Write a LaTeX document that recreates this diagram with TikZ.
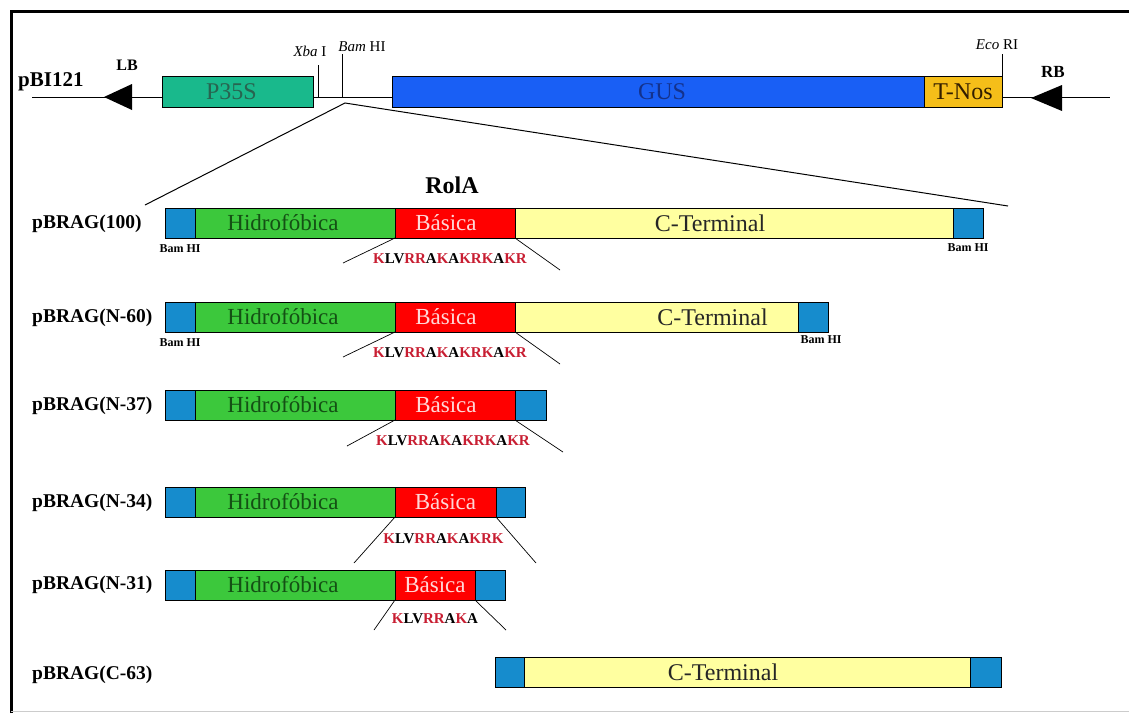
\documentclass[tikz,border=0pt]{standalone}
\usepackage{fontspec}
\setmainfont{Liberation Serif}
\usetikzlibrary{positioning, calc}

\definecolor{bamblue}{RGB}{22,140,205}
\definecolor{hidrogreen}{RGB}{60,200,60}
\definecolor{hidrotext}{RGB}{20,80,20}
\definecolor{basred}{RGB}{255,0,0}
\definecolor{bastext}{RGB}{255,215,215}
\definecolor{ctyellow}{RGB}{255,255,160}
\definecolor{promgreen}{RGB}{25,185,140}
\definecolor{promtext}{RGB}{40,100,80}
\definecolor{gusblue}{RGB}{25,95,245}
\definecolor{gustext}{RGB}{20,50,140}
\definecolor{nosgold}{RGB}{245,190,25}
\definecolor{nostext}{RGB}{50,30,0}
\definecolor{pepred}{RGB}{200,30,50}

\newcommand{\kr}[1]{\textcolor{pepred}{#1}}
\newcommand{\fsz}[1]{\fontsize{#1}{#1}\selectfont}

\begin{document}
\begin{tikzpicture}[
    x=1pt, y=-1pt,
    seg/.style={
        draw=black,
        line width=0.8pt,
        minimum height=30pt,
        inner sep=0pt,
        outer sep=0pt,
        anchor=west
    },
    nudge/.style={execute at begin node={\hspace*{#1}}},
    bamseg/.style={seg, fill=bamblue, minimum width=30pt},
    hidroseg/.style={seg, fill=hidrogreen, text=hidrotext, font=\fsz{23},
        minimum width=200pt, nudge=-24pt},
    basseg/.style={seg, fill=basred, text=bastext, font=\fsz{23}},
    ctseg/.style={seg, fill=ctyellow, text=black!85, font=\fsz{24}},
    construct/.style={font=\bfseries\fsz{19.5}, anchor=west, inner sep=0pt},
    pep/.style={font=\bfseries\fsz{15}, inner sep=0pt},
    peplink/.style={line width=0.7pt},
    bamlbl/.style={font=\bfseries\fsz{12}, inner sep=0pt},
    site/.style={font=\fsz{15}, inner sep=0pt, anchor=south}
]
    \useasboundingbox (0,0) rectangle (1129,713);

    % frame
    \draw[line width=3pt] (11,713) -- (11,11) -- (1129,11);
    \draw[gray!40] (11,711) -- (1129,711);

    % --- pBI121 T-DNA ---
    \coordinate (lend) at (32,97);
    \coordinate (rend) at (1110,97);
    \draw[line width=1pt] (lend) -- (rend);

    \node[font=\bfseries\fsz{21}, anchor=west, inner sep=0pt] (pbi) at (18,82) {pBI121};
    \node[font=\bfseries\fsz{16}, inner sep=0pt] (lb) at (127,65) {LB};
    \node[font=\bfseries\fsz{17}, inner sep=0pt] (rb) at (1053,72) {RB};
    \fill (104,97) -- (132,84) -- (132,110) -- cycle;
    \fill (1031,98) -- (1062,85) -- (1062,111) -- cycle;

    \node[seg, fill=promgreen, text=promtext, font=\fsz{24}, minimum height=31pt, minimum width=151pt, nudge=-12pt] (p35s) at (162,92) {P35S};
    \node[seg, fill=gusblue, text=gustext, font=\fsz{24}, minimum height=31pt, minimum width=532pt, nudge=8pt] (gus) at (392,92) {GUS};
    \node[seg, fill=nosgold, text=nostext, font=\fsz{24}, minimum height=31pt, minimum width=78pt, right=0pt of gus] (tnos) {T-Nos};

    % restriction sites
    \coordinate (xba) at (318,97);
    \coordinate (bam) at (342,97);
    \coordinate (eco) at (tnos.north east);
    \draw[line width=0.8pt] (xba) -- ++(0,-32);
    \draw[line width=0.8pt] (bam) -- ++(0,-43);
    \draw[line width=0.8pt] (eco) -- ++(0,-23);
    \node[site] (xbalbl) at (310,57) {\textit{Xba} I};
    \node[site] (bamlbl) at (362,52) {\textit{Bam} HI};
    \node[site] (ecolbl) at (997,50) {\textit{Eco} RI};

    % zoom onto RolA
    \coordinate (cut) at (345,103);
    \coordinate (zl) at (145,205);
    \coordinate (zr) at (1008,206);
    \draw[line width=1pt] (zl) -- (cut) -- (zr);
    \node[font=\bfseries\fsz{24}, inner sep=0pt] (rola) at (452,185) {RolA};

    % --- pBRAG(100) ---
    \node[construct] (c100) at (32,224) {pBRAG(100)};
    \node[bamseg] (b1a) at (165,223) {};
    \node[hidroseg, right=0pt of b1a] (b1h) {Hidrofóbica};
    \node[basseg, minimum width=120pt, nudge=-18pt, right=0pt of b1h] (b1b) {Básica};
    \node[ctseg, minimum width=438pt, nudge=-48pt, right=0pt of b1b] (b1c) {C-Terminal};
    \node[bamseg, right=0pt of b1c] (b1d) {};
    \node[bamlbl, below=6pt of b1a] {Bam HI};
    \node[bamlbl, below=5pt of b1d] {Bam HI};
    \node[pep] (pep1) at ($(b1b.south)+(-5,21)$) {\kr{K}LV\kr{RR}A\kr{K}A\kr{KRK}A\kr{KR}};
    \draw[peplink] (b1b.south west) -- ++(-52,25);
    \draw[peplink] (b1b.south east) -- ++(45,32);

    % --- pBRAG(N-60) ---
    \node[construct] (n60) at (32,318) {pBRAG(N-60)};
    \node[bamseg] (b2a) at (165,317) {};
    \node[hidroseg, right=0pt of b2a] (b2h) {Hidrofóbica};
    \node[basseg, minimum width=120pt, nudge=-18pt, right=0pt of b2h] (b2b) {Básica};
    \node[ctseg, minimum width=283pt, nudge=112pt, right=0pt of b2b] (b2c) {C-Terminal};
    \node[bamseg, right=0pt of b2c] (b2d) {};
    \node[bamlbl, below=6pt of b2a] {Bam HI};
    \node[bamlbl, below=3pt of b2d, xshift=8pt] {Bam HI};
    \node[pep] (pep2) at ($(b2b.south)+(-5,21)$) {\kr{K}LV\kr{RR}A\kr{K}A\kr{KRK}A\kr{KR}};
    \draw[peplink] (b2b.south west) -- ++(-52,25);
    \draw[peplink] (b2b.south east) -- ++(45,32);

    % --- pBRAG(N-37) ---
    \node[construct] (n37) at (32,406) {pBRAG(N-37)};
    \node[bamseg] (b3a) at (165,405) {};
    \node[hidroseg, right=0pt of b3a] (b3h) {Hidrofóbica};
    \node[basseg, minimum width=120pt, nudge=-18pt, right=0pt of b3h] (b3b) {Básica};
    \node[bamseg, minimum width=31pt, right=0pt of b3b] (b3d) {};
    \node[pep] (pep3) at ($(b3b.south)+(-2,21)$) {\kr{K}LV\kr{RR}A\kr{K}A\kr{KRK}A\kr{KR}};
    \draw[peplink] (b3b.south west) -- ++(-48,26);
    \draw[peplink] (b3b.south east) -- ++(48,32);

    % --- pBRAG(N-34) ---
    \node[construct] (n34) at (32,503) {pBRAG(N-34)};
    \node[bamseg] (b4a) at (165,502) {};
    \node[hidroseg, right=0pt of b4a] (b4h) {Hidrofóbica};
    \node[basseg, minimum width=101pt, right=0pt of b4h] (b4b) {Básica};
    \node[bamseg, minimum width=29pt, right=0pt of b4b] (b4d) {};
    \node[pep] (pep4) at ($(b4b.south)+(-2,22)$) {\kr{K}LV\kr{RR}A\kr{K}A\kr{KRK}};
    \draw[peplink] (b4b.south west) -- ++(-41,46);
    \draw[peplink] (b4b.south east) -- ++(40,46);

    % --- pBRAG(N-31) ---
    \node[construct] (n31) at (32,585) {pBRAG(N-31)};
    \node[bamseg] (b5a) at (165,585) {};
    \node[hidroseg, right=0pt of b5a] (b5h) {Hidrofóbica};
    \node[basseg, minimum width=80pt, right=0pt of b5h] (b5b) {Básica};
    \node[bamseg, right=0pt of b5b] (b5d) {};
    \node[pep] (pep5) at ($(b5b.south)+(0,19)$) {\kr{K}LV\kr{RR}A\kr{K}A};
    \draw[peplink] (b5b.south west) -- ++(-21,30);
    \draw[peplink] (b5b.south east) -- ++(31,30);

    % --- pBRAG(C-63) ---
    \node[construct] (c63) at (32,675) {pBRAG(C-63)};
    \node[bamseg, minimum width=29pt] (b6a) at (495,672) {};
    \node[ctseg, minimum width=446pt, nudge=-48pt, right=0pt of b6a] (b6c) {C-Terminal};
    \node[bamseg, minimum width=31pt, right=0pt of b6c] (b6d) {};

\end{tikzpicture}
\end{document}
